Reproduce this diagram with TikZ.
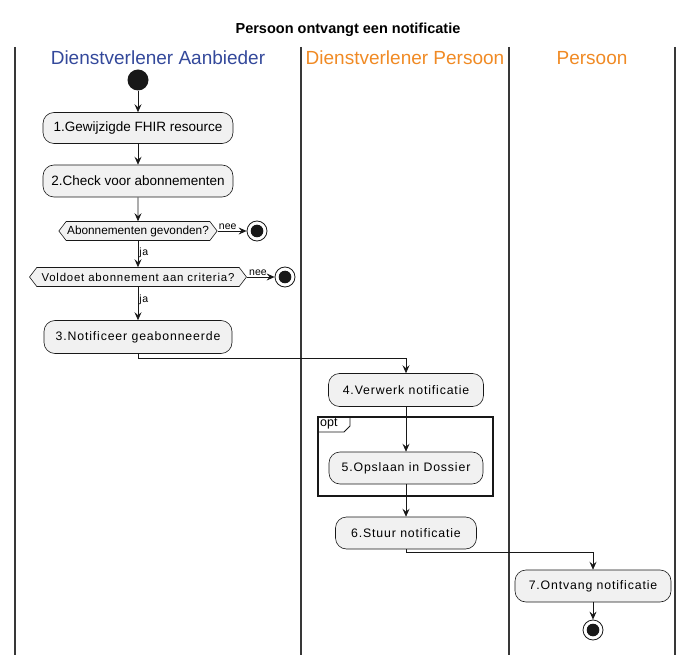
\documentclass[tikz,border=0pt]{standalone}
\usepackage{fontspec}
\setmainfont{Liberation Sans}
\newfontfamily\spaced[LetterSpace=7]{Liberation Sans}
\usepackage{tikz}
\usetikzlibrary{positioning,arrows.meta,shapes.symbols,calc}

\definecolor{lanehead}{RGB}{52,73,155}
\definecolor{laneorange}{RGB}{240,138,36}
\definecolor{boxfill}{RGB}{241,241,241}
\definecolor{ink}{RGB}{24,24,24}

\begin{document}
\begin{tikzpicture}[
  x=1pt, y=1pt,
  action/.style={rectangle, draw=ink, fill=boxfill, rounded corners=11pt, line width=0.6pt,
                 align=center, minimum height=32pt, font=\fontsize{13.5}{15}\selectfont, inner sep=2pt},
  decision/.style={signal, signal to=west and east, signal pointer angle=105, draw=ink, fill=boxfill,
                   line width=0.6pt, minimum height=19pt, inner sep=1pt},
  startnode/.style={circle, fill=ink, minimum size=21pt, inner sep=0pt},
  endnode/.style={circle, draw=ink, line width=0.8pt, fill=white, minimum size=20pt, inner sep=0pt,
                  path picture={\fill[ink] (path picture bounding box.center) circle (6.3pt);}},
  flow/.style={draw=ink, line width=0.7pt, -{Stealth[length=8pt,width=7pt,inset=3pt]}},
  lane/.style={draw=black!78, line width=1.6pt},
  header/.style={font=\fontsize{19}{22}\selectfont},
  guard/.style={font=\fontsize{10.5}{11}\selectfont, inner sep=1pt},
  tracked/.style={font=\spaced\fontsize{12.3}{14}\selectfont}
]
\useasboundingbox (0,0) rectangle (696,-668);

% title
\node[font=\bfseries\fontsize{14.5}{16}\selectfont] (title) at (348,-30) {Persoon ontvangt een notificatie};

% swimlanes
\foreach \lx in {15,301,509,675}
  \draw[lane] (\lx,-47) -- (\lx,-655);
\node[header, text=lanehead] (laneA) at (158,-58) {Dienstverlener Aanbieder};
\node[header, text=laneorange] (laneB) at (405,-58) {Dienstverlener Persoon};
\node[header, text=laneorange] (laneC) at (592,-58) {Persoon};

% Dienstverlener Aanbieder
\node[startnode] (start) at (138,-80) {};
\node[action, minimum width=190pt, minimum height=31pt] (resource) at (138,-128) {1.Gewijzigde FHIR resource};
\node[action, minimum width=190pt] (check) at (138,-181) {2.Check voor abonnementen};
\node[decision, minimum width=158pt, font=\fontsize{11.8}{13}\selectfont] (found) at (138,-231) {Abonnementen gevonden?};
\node[endnode] (stopA) at (257,-231) {};
\node[decision, minimum width=217pt, font=\spaced\fontsize{11.4}{13}\selectfont] (criteria) at (138,-277) {Voldoet abonnement aan criteria?};
\node[endnode] (stopB) at (285,-277) {};
\node[action, tracked, minimum width=188pt, minimum height=33pt] (notify) at (138,-337) {3.Notificeer geabonneerde};

% Dienstverlener Persoon
\node[action, tracked, minimum width=155pt, minimum height=33pt] (process) at (406,-390) {4.Verwerk notificatie};
\node[action, tracked, minimum width=154pt] (store) at (406,-468) {5.Opslaan in Dossier};
\node[action, tracked, minimum width=141pt] (send) at (406,-533) {6.Stuur notificatie};

% opt frame
\draw[ink, line width=1.3pt] (318,-417) rectangle (493,-496);
\draw[ink, line width=0.8pt] (318,-432) -- (344,-432) -- (350,-426) -- (350,-417);
\node[anchor=north west, inner sep=1pt, font=\fontsize{12.5}{14}\selectfont] (optlabel) at (319,-417.5) {opt};

% Persoon
\node[action, tracked, minimum width=156pt] (receive) at (593,-586) {7.Ontvang notificatie};
\node[endnode] (stopC) at (593,-630) {};

% connectors
\draw[flow] (start) -- (resource);
\draw[flow] (resource) -- (check);
\draw[flow] (check) -- (found);
\draw[flow] (found.east) -- node[guard, above, pos=0.35] {nee} (stopA);
\draw[flow] (found.south) -- node[guard, right, pos=0.45, font=\spaced\fontsize{10.5}{11}\selectfont] {ja} (criteria.north);
\draw[flow] (criteria.east) -- node[guard, above, pos=0.4] {nee} (stopB);
\draw[flow] (criteria.south) -- node[guard, right, pos=0.4, font=\spaced\fontsize{10.5}{11}\selectfont] {ja} (notify.north);
\draw[flow] (notify.south) -- ++(0,-5) -| (process.north);
\draw[flow] (process) -- (store);
\draw[flow] (store) -- (send);
\draw[flow] (send.south) -- ++(0,-3) -| (receive.north);
\draw[flow] (receive) -- (stopC);
\end{tikzpicture}
\end{document}
